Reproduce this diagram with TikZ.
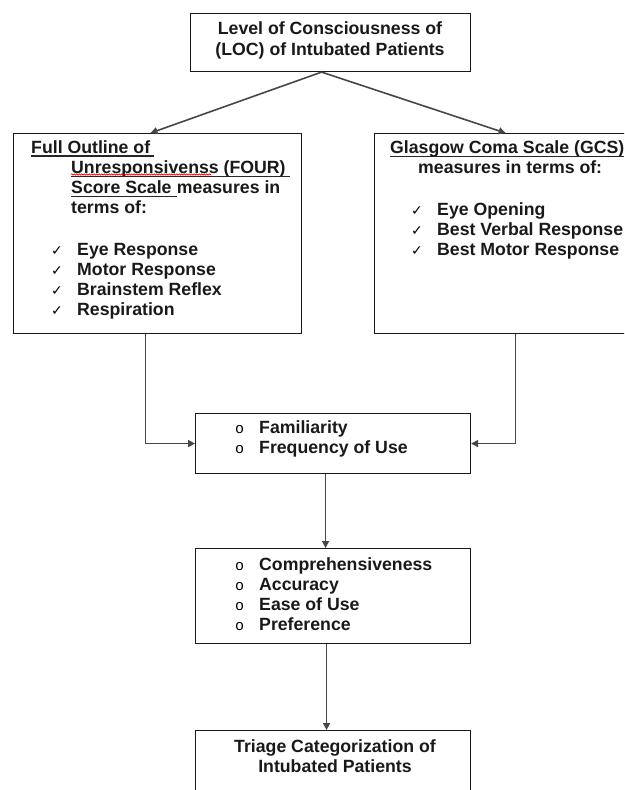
\documentclass[tikz,border=0pt]{standalone}
\usepackage{fontspec}
\setmainfont{Liberation Sans}
\newfontfamily\symf{DejaVu Sans}
\newfontfamily\monof{Liberation Mono}
\usetikzlibrary{arrows.meta,decorations.pathmorphing}
\begin{document}
\begin{tikzpicture}[x=1pt,y=-1pt,
  box/.style={draw=black!90, line width=1.1pt, inner sep=0pt, anchor=north west},
  txt/.style={anchor=base west, inner sep=0pt, font=\bfseries\fontsize{17.7}{20}\selectfont, text=black!90},
  ctxt/.style={anchor=base, inner sep=0pt, font=\bfseries\fontsize{17.7}{20}\selectfont, text=black!90},
  ck/.style={anchor=base west, inner sep=0pt, font=\symf\fontsize{14}{14}\selectfont},
  bul/.style={anchor=base west, inner sep=0pt, font=\monof\fontsize{15}{15}\selectfont},
  conn/.style={draw=black!72, line width=1.6pt, -{Triangle[length=7pt,width=7pt]}},
  uline/.style={line width=1.2pt, black!85}
]
\useasboundingbox (0,0) rectangle (624,790);
\clip (0,0) rectangle (624,790);

% boxes
\node[box, minimum width=280pt, minimum height=58pt] (top) at (190,13) {};
\node[box, minimum width=288pt, minimum height=200pt] (four) at (13,133) {};
\node[box, minimum width=290pt, minimum height=200pt] (gcs) at (374,133) {};
\node[box, minimum width=275pt, minimum height=60pt] (fam) at (195,413) {};
\node[box, minimum width=275pt, minimum height=95pt] (crit) at (195,548) {};
\node[box, minimum width=275pt, minimum height=80pt] (tri) at (195,730) {};

% connectors
\draw[conn] ([xshift=-9pt]top.south) -- ([xshift=-7pt]four.north);
\draw[conn] ([xshift=-9pt]top.south) -- ([xshift=-14pt]gcs.north);
\draw[conn] ([xshift=-12pt]four.south) |- (fam.west);
\draw[conn] ([xshift=-4pt]gcs.south) |- (fam.east);
\draw[conn] ([xshift=-7.5pt]fam.south) -- ([xshift=-7.5pt]crit.north);
\draw[conn] ([xshift=-6.5pt]crit.south) -- ([xshift=-6.5pt]tri.north);

% top box text
\node[ctxt] (t1) at (330,34) {Level of Consciousness of};
\node[ctxt] (t2) at (330,55) {(LOC) of Intubated Patients};

% FOUR box
\node[txt] (f1) at (31,153) {Full Outline of};
\draw[uline] ([yshift=-3pt]f1.base west) -- ([yshift=-3pt,xshift=4pt]f1.base east);
\node[txt] (f2) at (71,173) {Unresponsivenss (FOUR)};
\draw[red!80!black, line width=0.6pt, decorate, decoration={snake, amplitude=0.7pt, segment length=2.5pt}] ([yshift=-1.5pt]f2.base west) -- ++(140,0);
\draw[uline] ([yshift=-3.5pt]f2.base west) -- ([yshift=-3.5pt,xshift=4pt]f2.base east);
\node[txt] (f3) at (71,193) {Score Scale};
\draw[uline] ([yshift=-3.5pt]f3.base west) -- ([yshift=-3.5pt,xshift=5pt]f3.base east);
\node[txt, anchor=base west] (f3b) at ([xshift=5pt]f3.base east) {measures in};
\node[txt] (f4) at (71,213) {terms of:};
\node[ck] (c1) at (51,255) {✓};
\node[txt] (e1) at (77,255) {Eye Response};
\node[ck] (c2) at (51,275) {✓};
\node[txt] (e2) at (77,275) {Motor Response};
\node[ck] (c3) at (51,295) {✓};
\node[txt] (e3) at (77,295) {Brainstem Reflex};
\node[ck] (c4) at (51,315) {✓};
\node[txt] (e4) at (77,315) {Respiration};

% GCS box
\node[txt] (g1) at (390,153) {Glasgow Coma Scale (GCS)};
\draw[uline] ([yshift=-3.5pt]g1.base west) -- ([yshift=-3.5pt]g1.base east);
\node[txt] (g2) at (418,173) {measures in terms of:};
\node[ck] (d1) at (411,215) {✓};
\node[txt] (h1) at (437,215) {Eye Opening};
\node[ck] (d2) at (411,235) {✓};
\node[txt] (h2) at (437,235) {Best Verbal Response};
\node[ck] (d3) at (411,255) {✓};
\node[txt] (h3) at (437,255) {Best Motor Response};

% familiarity box
\node[bul] (b1) at (235,433) {o};
\node[txt] (m1) at (259,433) {Familiarity};
\node[bul] (b2) at (235,453) {o};
\node[txt] (m2) at (259,453) {Frequency of Use};

% criteria box
\node[bul] (b3) at (235,570) {o};
\node[txt] (k1) at (259,570) {Comprehensiveness};
\node[bul] (b4) at (235,590) {o};
\node[txt] (k2) at (259,590) {Accuracy};
\node[bul] (b5) at (235,610) {o};
\node[txt] (k3) at (259,610) {Ease of Use};
\node[bul] (b6) at (235,630) {o};
\node[txt] (k4) at (259,630) {Preference};

% triage box
\node[ctxt] (r1) at (335,752) {Triage Categorization of};
\node[ctxt] (r2) at (335,772) {Intubated Patients};
\end{tikzpicture}
\end{document}
